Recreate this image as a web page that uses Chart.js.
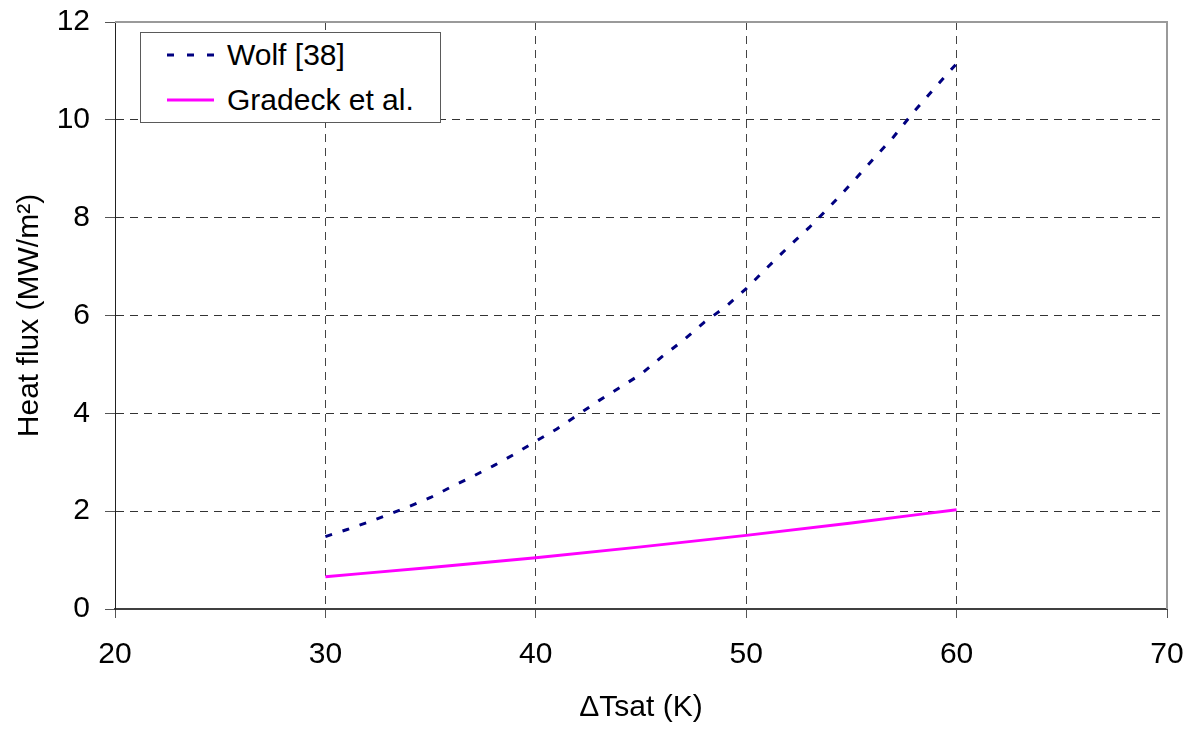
<!DOCTYPE html>
<html>
<head>
<meta charset="utf-8">
<script src="https://cdn.jsdelivr.net/npm/chart.js@4/dist/chart.umd.min.js"></script>
<style>
  html, body { margin: 0; padding: 0; background: #fff; }
  #wrap { position: relative; width: 1195px; height: 729px; }
  #legend {
    position: absolute; left: 140px; top: 32px; width: 299px; height: 89px;
    border: 1px solid #5a5a5a; background: #fff;
    font-family: "Liberation Sans", Arial, sans-serif; font-size: 30px; color: #000;
  }
  .item { position: absolute; left: 0; height: 36px; display: flex; align-items: center; }
  .item svg { margin-left: 26px; margin-right: 13px; }
</style>
</head>
<body>
<div id="wrap">
  <canvas id="c" width="1195" height="729"></canvas>
  <div id="legend"></div>
</div>
<script>
// ---- data ----
const wolfX = [30, 31, 32, 33, 34, 35, 36, 37, 38, 39, 40, 41, 42, 43, 44, 45, 46, 47, 48, 49, 50, 51, 52, 53, 54, 55, 56, 57, 58, 59, 60];
const wolfY = [1.48, 1.62, 1.77, 1.93, 2.10, 2.28, 2.50, 2.71, 2.93, 3.17, 3.43, 3.68, 3.97, 4.26, 4.53, 4.80, 5.16, 5.49, 5.86, 6.17, 6.55, 6.98, 7.40, 7.80, 8.24, 8.70, 9.18, 9.65, 10.18, 10.67, 11.15];
const gradeckX = [30, 35, 40, 45, 50, 55, 60];
const gradeckY = [0.66, 0.85, 1.05, 1.27, 1.505, 1.76, 2.03];
const seriesNames = ["Wolf [38]", "Gradeck et al."];
const xTitle = "\u0394Tsat (K)";
const yTitle = "Heat flux (MW/m\u00B2)";
const xTicks = [20, 30, 40, 50, 60, 70];
const yTicks = [0, 2, 4, 6, 8, 10, 12];

const toPts = (xs, ys) => xs.map((x, i) => ({ x: x, y: ys[i] }));
const FONT = "'Liberation Sans', Arial, sans-serif";

const frameBorder = {
  id: 'frameBorder',
  beforeDatasetsDraw(chart) {
    const { ctx, chartArea: a } = chart;
    ctx.save();
    ctx.strokeStyle = '#9a9a9a';
    ctx.lineWidth = 2;
    ctx.beginPath();
    ctx.moveTo(a.left, a.top);
    ctx.lineTo(a.right, a.top);
    ctx.lineTo(a.right, a.bottom);
    ctx.stroke();
    ctx.restore();
  }
};

const chart = new Chart(document.getElementById('c'), {
  type: 'line',
  data: {
    datasets: [
      {
        label: seriesNames[0],
        data: toPts(wolfX, wolfY),
        borderColor: '#000080',
        borderWidth: 3,
        borderDash: [7, 11],
        pointRadius: 0,
        fill: false,
        tension: 0
      },
      {
        label: seriesNames[1],
        data: toPts(gradeckX, gradeckY),
        borderColor: '#ff00ff',
        borderWidth: 3,
        pointRadius: 0,
        fill: false,
        cubicInterpolationMode: 'monotone'
      }
    ]
  },
  options: {
    responsive: false,
    animation: false,
    layout: { padding: { top: 22, right: 28, left: 0, bottom: 0 } },
    plugins: { legend: { display: false }, tooltip: { enabled: false } },
    scales: {
      x: {
        type: 'linear', min: 20, max: 70,
        afterBuildTicks: (s) => { s.ticks = xTicks.map(v => ({ value: v })); },
        afterFit: (s) => { s.height = 120; s.paddingLeft = 0; s.paddingRight = 0; },
        ticks: { color: '#000', font: { family: FONT, size: 30 }, padding: 19, maxRotation: 0 },
        grid: { color: '#444', lineWidth: 1, tickLength: 9, tickColor: '#555' },
        border: { display: true, color: '#404040', width: 2, dash: [8, 6] },
        title: { display: true, text: xTitle, color: '#000', font: { family: FONT, size: 30 }, padding: { top: 0, bottom: 3 } }
      },
      y: {
        type: 'linear', min: 0, max: 12,
        afterBuildTicks: (s) => { s.ticks = yTicks.map(v => ({ value: v })); },
        afterFit: (s) => { s.width = 115; s.paddingTop = 0; s.paddingBottom = 0; },
        ticks: { color: '#000', font: { family: FONT, size: 30 }, padding: 15 },
        grid: { color: '#333', lineWidth: 1, tickLength: 10, tickColor: '#555' },
        border: { display: true, color: '#222', width: 1, dash: [8, 6] },
        title: { display: true, text: yTitle, color: '#000', font: { family: FONT, size: 30 }, padding: { top: 12, bottom: 0 } }
      }
    }
  },
  plugins: [frameBorder]
});

// HTML legend built from the datasets
const legend = document.getElementById('legend');
chart.data.datasets.forEach((ds, i) => {
  const item = document.createElement('div');
  item.className = 'item';
  item.style.top = (i === 0 ? 4 : 49) + 'px';
  const dash = ds.borderDash ? '7,13' : 'none';
  item.innerHTML = '<svg width="47" height="6"><line x1="0" y1="3" x2="47" y2="3" stroke="' + ds.borderColor +
    '" stroke-width="3" stroke-dasharray="' + dash + '"/></svg><span>' + ds.label + '</span>';
  legend.appendChild(item);
});
</script>
</body>
</html>
